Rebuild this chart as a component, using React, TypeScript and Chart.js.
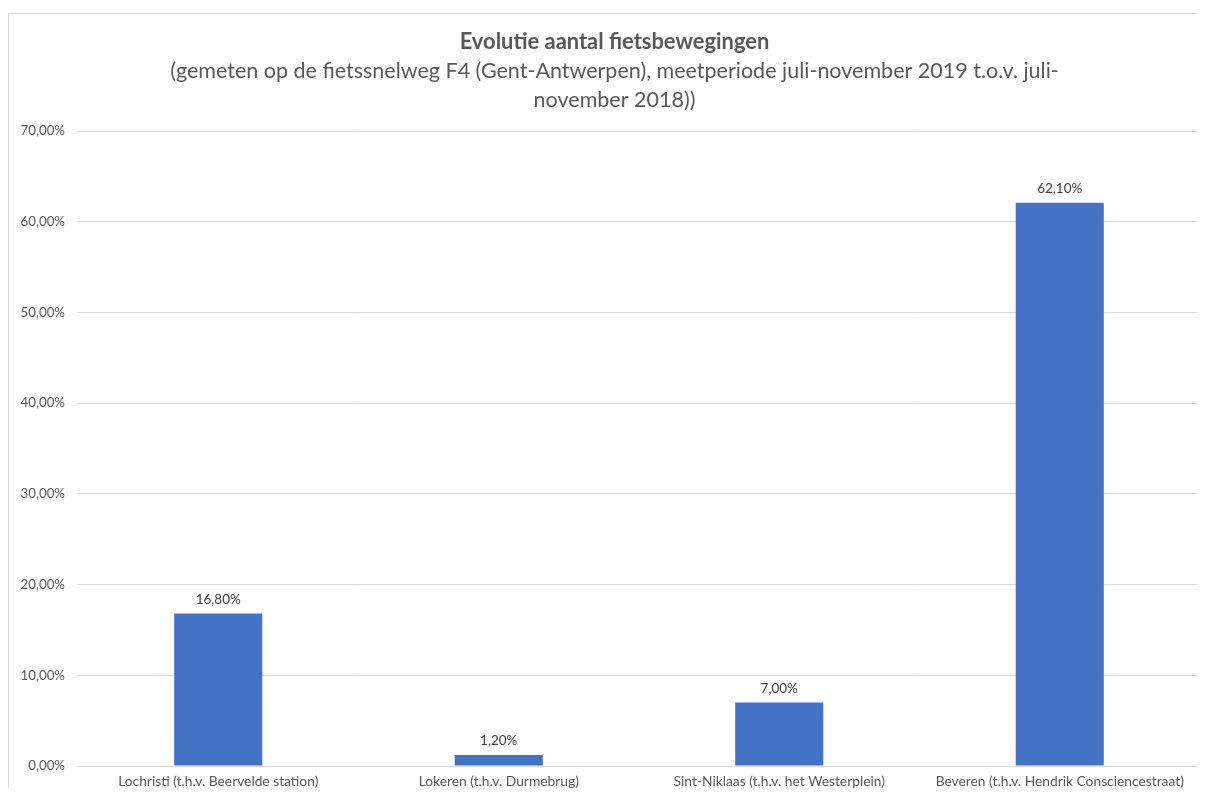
import React, { useEffect, useRef } from "react";
import { Chart, registerables } from "chart.js";

Chart.register(...registerables);

const categories = [
  "Lochristi (t.h.v. Beervelde station)",
  "Lokeren (t.h.v. Durmebrug)",
  "Sint-Niklaas (t.h.v. het Westerplein)",
  "Beveren (t.h.v. Hendrik Consciencestraat)",
];
const values = [16.8, 1.2, 7.0, 62.1];
const titleText = "Evolutie aantal fietsbewegingen";
const subtitleLines = [
  "(gemeten op de fietssnelweg F4 (Gent-Antwerpen), meetperiode juli-november 2019 t.o.v. juli-",
  "november 2018))",
];

const FONT = "Lato, 'Open Sans', sans-serif";
const fmt = (v: number) => v.toFixed(2).replace(".", ",") + "%";

const dataLabels = {
  id: "dataLabels",
  afterDatasetsDraw(chart: any) {
    const ctx = chart.ctx;
    const meta = chart.getDatasetMeta(0);
    ctx.save();
    ctx.font = `13.5px ${FONT}`;
    ctx.fillStyle = "#404040";
    ctx.textAlign = "center";
    ctx.textBaseline = "middle";
    meta.data.forEach((bar: any, i: number) => {
      ctx.fillText(fmt(values[i]), bar.x, bar.y - 14);
    });
    ctx.restore();
  },
};

const titleBlock = {
  id: "titleBlock",
  afterDraw(chart: any) {
    const ctx = chart.ctx;
    const cx = chart.width / 2;
    ctx.save();
    ctx.fillStyle = "#595959";
    ctx.textAlign = "center";
    ctx.textBaseline = "middle";
    ctx.font = `bold 21.9px ${FONT}`;
    ctx.fillText(titleText, cx, 28);
    ctx.font = `21.5px ${FONT}`;
    subtitleLines.forEach((line, i) => {
      ctx.fillText(line, cx, 57 + i * 29);
    });
    ctx.restore();
  },
};

export default function App() {
  const ref = useRef<HTMLCanvasElement>(null);
  useEffect(() => {
    const chart = new Chart(ref.current!, {
      type: "bar",
      data: {
        labels: categories,
        datasets: [
          {
            data: values,
            backgroundColor: "#4472C4",
            barPercentage: 0.314,
            categoryPercentage: 1,
          },
        ],
      },
      plugins: [dataLabels, titleBlock],
      options: {
        responsive: false,
        animation: false,
        layout: { padding: { left: 0, right: 20, top: 117, bottom: 0 } },
        plugins: {
          legend: { display: false },
          tooltip: { enabled: false },
          title: { display: false },
        },
        scales: {
          x: {
            grid: { display: false, drawTicks: false },
            border: { display: true, color: "#d9d9d9", width: 1 },
            ticks: {
              color: "#595959",
              font: { family: FONT, size: 13.8 },
              padding: 7,
              maxRotation: 0,
              autoSkip: false,
            },
            afterFit: (s: any) => {
              s.height = 38;
            },
          },
          y: {
            min: 0,
            max: 70,
            grid: { color: "#d9d9d9", drawTicks: false },
            border: { display: false },
            ticks: {
              stepSize: 10,
              color: "#595959",
              font: { family: FONT, size: 13.3 },
              padding: 13,
              callback: (v: any) => fmt(Number(v)),
            },
            afterFit: (s: any) => {
              s.width = 69;
            },
          },
        },
      },
    });
    return () => chart.destroy();
  }, []);
  return (
    <div
      style={{
        marginTop: 5,
        width: 1196,
        height: 774,
        borderTop: "1px solid #d9d9d9",
        borderLeft: "1px solid #d9d9d9",
        overflow: "hidden",
        background: "#fff",
      }}
    >
      <canvas ref={ref} width={1211} height={790} style={{ display: "block" }} />
    </div>
  );
}
